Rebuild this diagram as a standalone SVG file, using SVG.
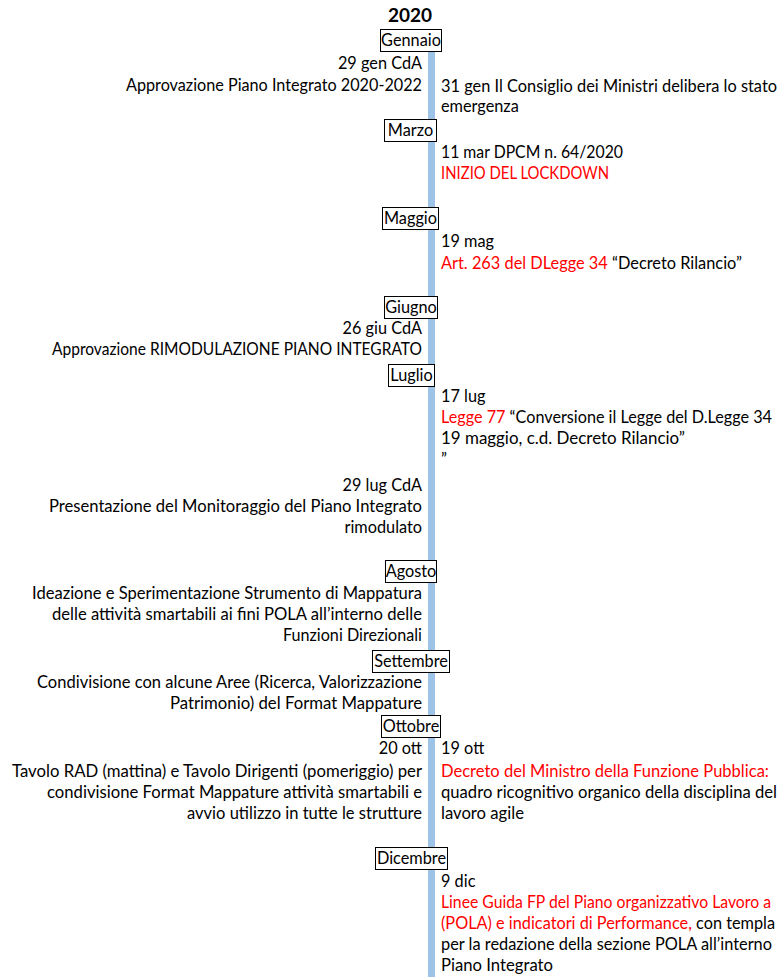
<svg xmlns="http://www.w3.org/2000/svg" width="780" height="977" viewBox="0 0 780 977">
<style>
text{font-family:Lato,"Open Sans","Liberation Sans",sans-serif;font-size:16.3px;fill:#000}
.l{text-anchor:end}
.r{fill:#FF0000}
.m rect{fill:#fff;stroke:#000;stroke-width:1}
.m text{text-anchor:middle}
.t{font-weight:bold;font-size:19px;text-anchor:middle}
</style>
<rect width="780" height="977" fill="#fff"/>
<g id="connectors">
<rect x="428" y="51" width="7" height="926" fill="#9DC3E6"/>
</g>
<g id="title"><text class="t" x="410" y="22">2020</text></g>
<g id="m-gennaio" class="m"><rect x="380.5" y="29.5" width="61" height="22"/><text x="411" y="46">Gennaio</text></g>
<g id="m-marzo" class="m"><rect x="384.5" y="119.5" width="52" height="22"/><text x="410.5" y="136">Marzo</text></g>
<g id="m-maggio" class="m"><rect x="382.5" y="207.5" width="56" height="22"/><text x="410.5" y="224">Maggio</text></g>
<g id="m-giugno" class="m"><rect x="384.5" y="296.5" width="53" height="22"/><text x="411" y="313">Giugno</text></g>
<g id="m-luglio" class="m"><rect x="388.5" y="364.5" width="46" height="22"/><text x="411.5" y="381">Luglio</text></g>
<g id="m-agosto" class="m"><rect x="385.5" y="560.5" width="51" height="22"/><text x="411" y="577">Agosto</text></g>
<g id="m-settembre" class="m"><rect x="372.5" y="650.5" width="77" height="22"/><text x="411" y="667">Settembre</text></g>
<g id="m-ottobre" class="m"><rect x="381.5" y="715.5" width="59" height="22"/><text x="411" y="732">Ottobre</text></g>
<g id="m-dicembre" class="m"><rect x="375.5" y="847.5" width="72" height="22"/><text x="411.5" y="864">Dicembre</text></g>

<g id="e-29gen">
<text class="l" x="422" y="69">29 gen CdA</text>
<text class="l" x="422" y="91" textLength="296" lengthAdjust="spacingAndGlyphs">Approvazione Piano Integrato 2020-2022</text>
</g>
<g id="e-31gen">
<text x="441" y="92" textLength="336" lengthAdjust="spacingAndGlyphs">31 gen Il Consiglio dei Ministri delibera lo stato</text>
<text x="441" y="112">emergenza</text>
</g>
<g id="e-11mar">
<text x="441" y="158" textLength="182" lengthAdjust="spacingAndGlyphs">11 mar DPCM n. 64/2020</text>
<text class="r" x="441" y="179" textLength="168" lengthAdjust="spacingAndGlyphs">INIZIO DEL LOCKDOWN</text>
</g>
<g id="e-19mag">
<text x="441" y="247">19 mag</text>
<text x="441" y="269" textLength="301" lengthAdjust="spacingAndGlyphs"><tspan class="r">Art. 263 del DLegge 34</tspan> “Decreto Rilancio”</text>
</g>
<g id="e-26giu">
<text class="l" x="422" y="334">26 giu CdA</text>
<text class="l" x="422" y="355" textLength="370" lengthAdjust="spacingAndGlyphs">Approvazione RIMODULAZIONE PIANO INTEGRATO</text>
</g>
<g id="e-17lug">
<text x="441" y="402">17 lug</text>
<text x="441" y="423" textLength="331" lengthAdjust="spacingAndGlyphs"><tspan class="r">Legge 77</tspan> “Conversione il Legge del D.Legge 34</text>
<text x="441" y="444" textLength="244" lengthAdjust="spacingAndGlyphs">19 maggio, c.d. Decreto Rilancio”</text>
<text x="441" y="465">”</text>
</g>
<g id="e-29lug">
<text class="l" x="422" y="491">29 lug CdA</text>
<text class="l" x="422" y="512" textLength="373" lengthAdjust="spacingAndGlyphs">Presentazione del Monitoraggio del Piano Integrato</text>
<text class="l" x="422" y="533">rimodulato</text>
</g>
<g id="e-agosto">
<text class="l" x="422" y="599" textLength="390" lengthAdjust="spacingAndGlyphs">Ideazione e Sperimentazione Strumento di Mappatura</text>
<text class="l" x="422" y="620" textLength="370" lengthAdjust="spacingAndGlyphs">delle attività smartabili ai fini POLA all’interno delle</text>
<text class="l" x="422" y="641" textLength="139" lengthAdjust="spacingAndGlyphs">Funzioni Direzionali</text>
</g>
<g id="e-settembre">
<text class="l" x="422" y="688" textLength="385" lengthAdjust="spacingAndGlyphs">Condivisione con alcune Aree (Ricerca, Valorizzazione</text>
<text class="l" x="422" y="709" textLength="252" lengthAdjust="spacingAndGlyphs">Patrimonio) del Format Mappature</text>
</g>
<g id="e-20ott">
<text class="l" x="422" y="754">20 ott</text>
<text class="l" x="422" y="777" textLength="410" lengthAdjust="spacingAndGlyphs">Tavolo RAD (mattina) e Tavolo Dirigenti (pomeriggio) per</text>
<text class="l" x="422" y="798" textLength="375" lengthAdjust="spacingAndGlyphs">condivisione Format Mappature attività smartabili e</text>
<text class="l" x="422" y="819" textLength="235" lengthAdjust="spacingAndGlyphs">avvio utilizzo in tutte le strutture</text>
</g>
<g id="e-19ott">
<text x="441" y="754">19 ott</text>
<text class="r" x="441" y="777" textLength="328" lengthAdjust="spacingAndGlyphs">Decreto del Ministro della Funzione Pubblica:</text>
<text x="441" y="798" textLength="336" lengthAdjust="spacingAndGlyphs">quadro ricognitivo organico della disciplina del</text>
<text x="441" y="819" textLength="83" lengthAdjust="spacingAndGlyphs">lavoro agile</text>
</g>
<g id="e-9dic">
<text x="441" y="887">9 dic</text>
<text class="r" x="441" y="908" textLength="330" lengthAdjust="spacingAndGlyphs">Linee Guida FP del Piano organizzativo Lavoro a</text>
<text x="441" y="929" textLength="334" lengthAdjust="spacingAndGlyphs"><tspan class="r">(POLA) e indicatori di Performance,</tspan> con templa</text>
<text x="441" y="950" textLength="331" lengthAdjust="spacingAndGlyphs">per la redazione della sezione POLA all’interno</text>
<text x="441" y="971" textLength="112" lengthAdjust="spacingAndGlyphs">Piano Integrato</text>
</g>
</svg>
